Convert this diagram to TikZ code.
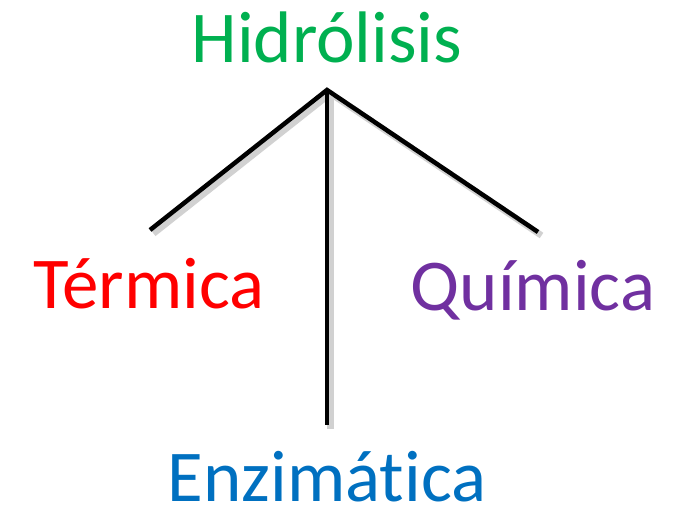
\documentclass[tikz,border=0pt]{standalone}
\usepackage{fontspec}
\setmainfont{Carlito}[RawFeature=-liga]
\definecolor{hgreen}{HTML}{00B050}
\definecolor{hred}{HTML}{FF0000}
\definecolor{hpurple}{HTML}{7030A0}
\definecolor{hblue}{HTML}{0070C0}
\begin{document}
\begin{tikzpicture}[x=1pt,y=-1pt,
  lbl/.style={anchor=base,inner sep=0pt,font=\fontsize{73}{80}\selectfont},
  branch/.style={line width=4.5pt,black},
  branchshadow/.style={line width=6.5pt,black!18,transform canvas={xshift=3.5pt,yshift=-3.5pt}}]
\useasboundingbox (0,0) rectangle (687,506);
\node[lbl,text=hgreen] (h) at (327,62) {Hidrólisis};
\node[lbl,text=hred] (t) at (149,308) {Térmica};
\node[lbl,text=hpurple] (q) at (533,310) {Química};
\node[lbl,text=hblue] (e) at (327,501) {Enzimática};
\coordinate (apex) at (327,90);
\coordinate (lt) at (150,230);
\coordinate (rt) at (538,232);
\coordinate (bt) at (327,425);
\draw[branchshadow] (apex) -- (lt);
\draw[branchshadow] (apex) -- (rt);
\draw[branchshadow] (apex) -- (bt);
\draw[branch] (lt) -- (apex) -- (rt);
\draw[branch] (apex) -- (bt);
\end{tikzpicture}
\end{document}
